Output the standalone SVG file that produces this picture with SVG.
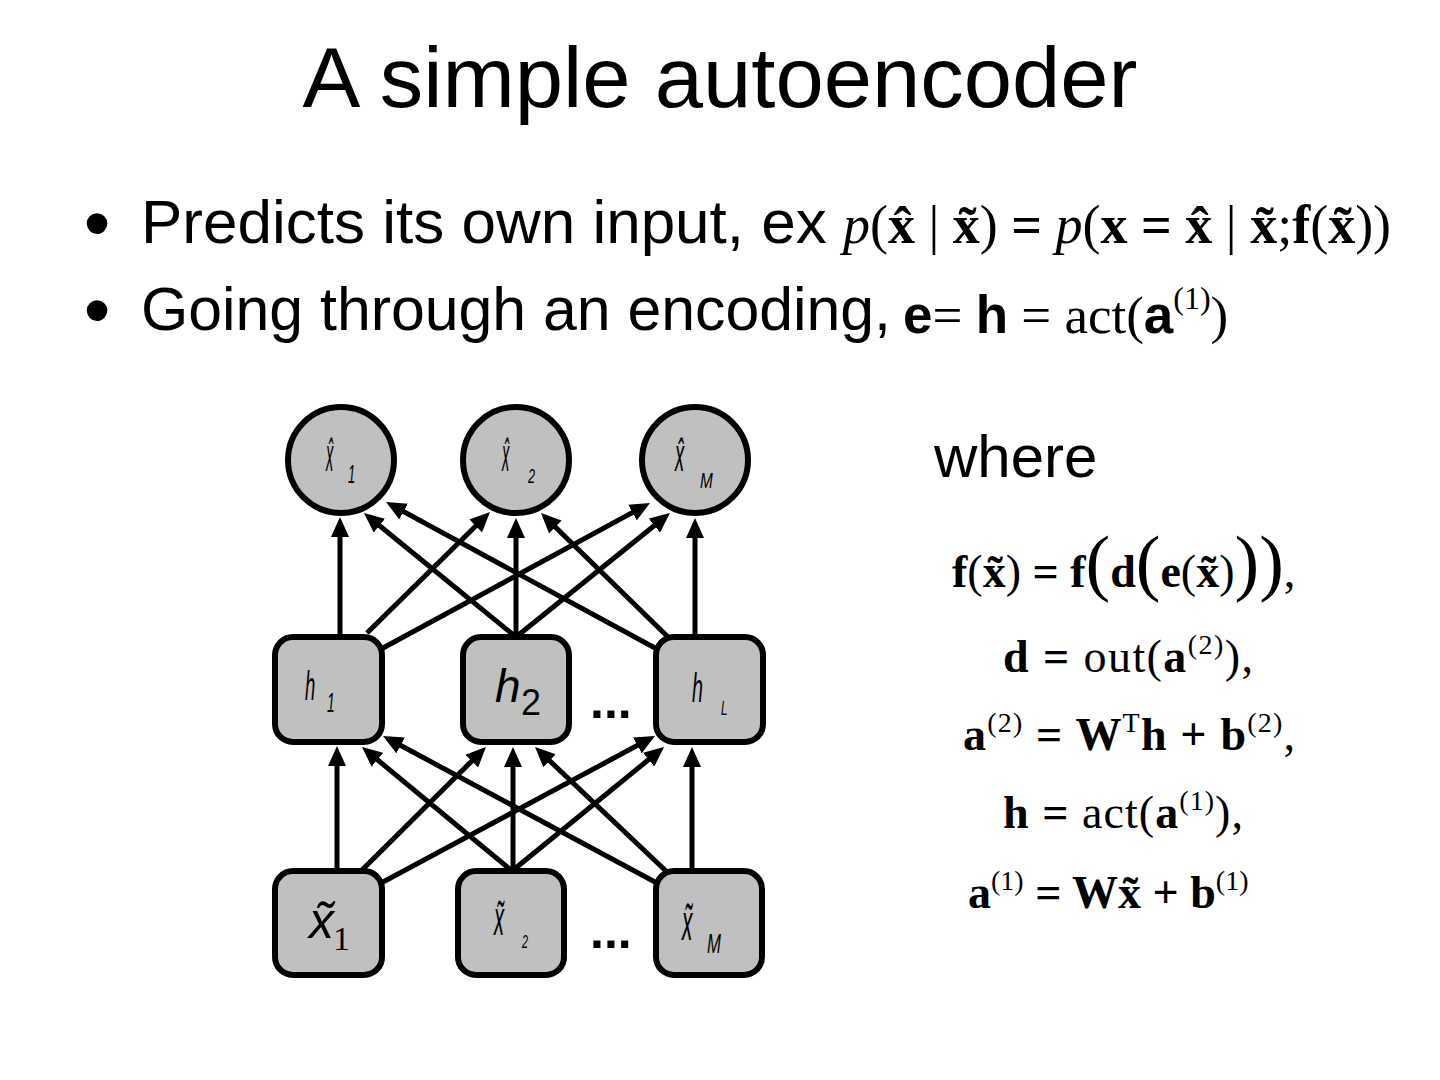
<svg xmlns="http://www.w3.org/2000/svg" width="1440" height="1080" viewBox="0 0 1440 1080">
<style>
.sans{font-family:"Liberation Sans",Arial,sans-serif}
.serif{font-family:"Liberation Serif","Times New Roman",serif}
.b{font-weight:bold}
.it{font-style:italic}
.node{fill:#c0c0c0;stroke:#000;stroke-width:6}
.lbl{font-family:"Liberation Sans",Arial,sans-serif;font-style:italic}
.edge{stroke:#000;stroke-width:5;fill:none;marker-end:url(#ah)}
text{fill:#000}
</style>
<defs>
<marker id="ah" markerUnits="userSpaceOnUse" markerWidth="20" markerHeight="18" viewBox="0 0 20 18" refX="14" refY="9" orient="auto"><path d="M0,0 L20,9 L0,18 z" fill="#000"/></marker>
</defs>
<rect width="1440" height="1080" fill="#fff"/>
<text class="sans" x="720" y="107" font-size="86" text-anchor="middle" textLength="835" lengthAdjust="spacingAndGlyphs">A simple autoencoder</text>
<text class="sans" x="97" y="249" font-size="76" text-anchor="middle">•</text>
<text class="sans" x="97" y="336" font-size="76" text-anchor="middle">•</text>
<text class="sans" x="141" y="243" font-size="62">Predicts its own input, ex</text>
<text class="serif" x="843" y="243" font-size="54"><tspan class="it">p</tspan>(<tspan class="b">x̂</tspan> | <tspan class="b">x̃</tspan>) <tspan class="b">=</tspan> <tspan class="it">p</tspan>(<tspan class="b">x</tspan> <tspan class="b">=</tspan> <tspan class="b">x̂</tspan> | <tspan class="b">x̃</tspan>;<tspan class="b">f</tspan>(<tspan class="b">x̃</tspan>))</text>
<text class="sans" x="141" y="330" font-size="62" textLength="750" lengthAdjust="spacingAndGlyphs">Going through an encoding,</text>
<text class="serif" x="903" y="333" font-size="53"><tspan class="sans b">e</tspan>= <tspan class="sans b">h</tspan> = act(<tspan class="sans b">a</tspan><tspan font-size="32" dy="-24">(1)</tspan><tspan dy="24">)</tspan></text>
<text class="sans" x="934" y="477" font-size="60">where</text>
<g class="serif" font-size="46">
<text x="952" y="587"><tspan class="b">f</tspan>(<tspan class="b">x̃</tspan>) <tspan class="b">=</tspan> <tspan class="b">f</tspan><tspan font-size="74">(</tspan><tspan class="b">d</tspan><tspan font-size="74">(</tspan><tspan class="b">e</tspan>(<tspan class="b">x̃</tspan>)<tspan font-size="74">))</tspan>,</text>
<text x="1003" y="672" textLength="250" lengthAdjust="spacing"><tspan class="b">d</tspan> <tspan class="b">=</tspan> out(<tspan class="b">a</tspan><tspan font-size="28" dy="-18">(2)</tspan><tspan dy="18">),</tspan></text>
<text x="963" y="750" textLength="332" lengthAdjust="spacing"><tspan class="b">a</tspan><tspan font-size="28" dy="-18">(2)</tspan><tspan dy="18"> </tspan><tspan class="b">= W</tspan><tspan font-size="28" dy="-18">T</tspan><tspan class="b" dy="18">h + b</tspan><tspan font-size="28" dy="-18">(2)</tspan><tspan dy="18">,</tspan></text>
<text x="1003" y="828" textLength="240" lengthAdjust="spacing"><tspan class="b">h</tspan> <tspan class="b">=</tspan> act(<tspan class="b">a</tspan><tspan font-size="28" dy="-18">(1)</tspan><tspan dy="18">),</tspan></text>
<text x="968" y="908"><tspan class="b">a</tspan><tspan font-size="28" dy="-18">(1)</tspan><tspan dy="18"> </tspan><tspan class="b">= Wx̃ + b</tspan><tspan font-size="28" dy="-18">(1)</tspan></text>
</g>
<g id="node-xhat1"><circle class="node" cx="341" cy="460" r="53"/><text class="lbl" font-size="46" transform="translate(326,471) scale(0.32,1)">x̂</text><text class="lbl" font-style="normal" font-size="26" transform="translate(348,483) scale(0.5,1)">1</text></g>
<g id="node-xhat2"><circle class="node" cx="516" cy="460" r="53"/><text class="lbl" font-size="46" transform="translate(502,471) scale(0.32,1)">x̂</text><text class="lbl" font-style="normal" font-size="21" transform="translate(528,483) scale(0.6,1)">2</text></g>
<g id="node-xhatM"><circle class="node" cx="695" cy="460" r="53"/><text class="lbl" font-size="46" transform="translate(675,471) scale(0.4,1)">x̂</text><text class="lbl" font-size="22" transform="translate(700,488) scale(0.7,1)">M</text></g>
<g id="node-h1"><rect class="node" x="275" y="637" width="107" height="105" rx="18"/><text class="lbl" font-size="41" transform="translate(305,700) scale(0.45,1)">h</text><text class="lbl" font-style="normal" font-size="28" transform="translate(327,712) scale(0.5,1)">1</text></g>
<g id="node-h2"><rect class="node" x="463" y="637" width="106" height="105" rx="18"/><text class="lbl" font-size="46" x="495" y="702">h</text><text class="sans" font-size="36" x="521" y="715">2</text></g>
<g id="node-hL"><rect class="node" x="656" y="637" width="107" height="105" rx="18"/><text class="lbl" font-size="41" transform="translate(692,702) scale(0.48,1)">h</text><text class="lbl" font-size="21" transform="translate(721,715) scale(0.55,1)">L</text></g>
<g id="node-xt1"><rect class="node" x="275" y="871" width="107" height="104" rx="18"/><text class="lbl" font-size="50" x="309" y="938">x̃</text><text class="serif" font-size="34" x="333" y="950">1</text></g>
<g id="node-xt2"><rect class="node" x="458" y="871" width="106" height="104" rx="18"/><text class="lbl" font-size="48" transform="translate(494,935) scale(0.42,1)">x̃</text><text class="lbl" font-style="normal" font-size="18" transform="translate(522,948) scale(0.6,1)">2</text></g>
<g id="node-xtM"><rect class="node" x="656" y="871" width="106" height="104" rx="18"/><text class="lbl" font-size="52" transform="translate(682,940) scale(0.4,1)">x̃</text><text class="lbl" font-size="27" transform="translate(707,953) scale(0.62,1)">M</text></g>
<text class="sans b" font-size="50" x="590" y="718">...</text>
<text class="sans b" font-size="50" x="590" y="948">...</text>
<g id="connectors">
<line class="edge" x1="340" y1="637" x2="340" y2="523"/>
<line class="edge" x1="367" y1="633" x2="485.7" y2="516.2"/>
<line class="edge" x1="383" y1="648" x2="644.7" y2="505.9"/>
<line class="edge" x1="516" y1="637" x2="368.6" y2="516.8"/>
<line class="edge" x1="516" y1="637" x2="516" y2="524"/>
<line class="edge" x1="516" y1="637" x2="665.3" y2="516.8"/>
<line class="edge" x1="655" y1="648" x2="391.3" y2="504.9"/>
<line class="edge" x1="668" y1="637" x2="545.3" y2="517.2"/>
<line class="edge" x1="695" y1="637" x2="695" y2="524"/>
<line class="edge" x1="337" y1="871" x2="337" y2="752"/>
<line class="edge" x1="361" y1="871" x2="481.7" y2="751.2"/>
<line class="edge" x1="383" y1="882" x2="649.7" y2="738.8"/>
<line class="edge" x1="512" y1="871" x2="366.6" y2="750.8"/>
<line class="edge" x1="513" y1="871" x2="513" y2="753"/>
<line class="edge" x1="512" y1="871" x2="659.4" y2="750.8"/>
<line class="edge" x1="655" y1="882" x2="388.3" y2="738.8"/>
<line class="edge" x1="666" y1="871" x2="539.4" y2="751.1"/>
<line class="edge" x1="692" y1="871" x2="692" y2="753"/>
</g>
</svg>
